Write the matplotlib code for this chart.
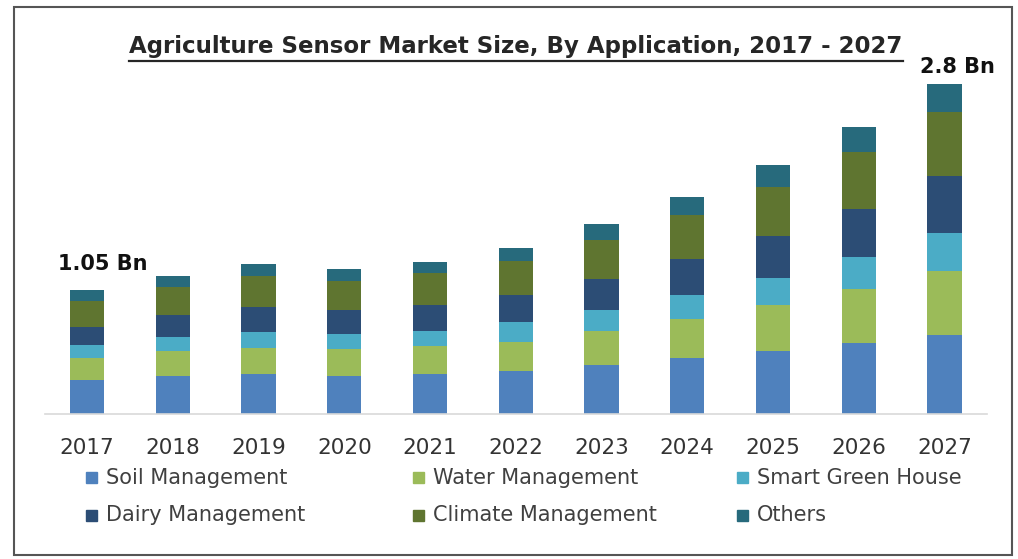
import numpy as np
import matplotlib.pyplot as plt
from matplotlib.patches import Rectangle
from matplotlib.lines import Line2D

# market size by application, USD Bn
years = ['2017', '2018', '2019', '2020', '2021', '2022', '2023', '2024', '2025', '2026', '2027']
soil = [0.285, 0.325, 0.339, 0.325, 0.342, 0.367, 0.415, 0.472, 0.534, 0.599, 0.672]
water = [0.192, 0.209, 0.223, 0.224, 0.235, 0.246, 0.291, 0.336, 0.390, 0.458, 0.542]
green_house = [0.105, 0.116, 0.131, 0.130, 0.130, 0.164, 0.175, 0.201, 0.231, 0.274, 0.322]
dairy = [0.157, 0.186, 0.217, 0.203, 0.218, 0.231, 0.263, 0.305, 0.353, 0.409, 0.483]
climate = [0.222, 0.237, 0.263, 0.248, 0.269, 0.291, 0.331, 0.373, 0.418, 0.483, 0.537]
others = [0.089, 0.098, 0.099, 0.099, 0.098, 0.105, 0.136, 0.155, 0.181, 0.207, 0.244]

segments = [
    ('Soil Management', soil, '#4f81bd'),
    ('Water Management', water, '#9bbb59'),
    ('Smart Green House', green_house, '#4bacc6'),
    ('Dairy Management', dairy, '#2c4d75'),
    ('Climate Management', climate, '#5f7530'),
    ('Others', others, '#276a7c'),
]

W, H = 1018, 559
fig = plt.figure(figsize=(W / 100, H / 100), dpi=100)
ax = fig.add_axes([45 / W, 1 - 414 / H, 942 / W, 354 / H])

x = np.arange(len(years))
bottom = np.zeros(len(years))
for name, vals, color in segments:
    ax.bar(x, vals, 0.4, bottom=bottom, color=color, label=name)
    bottom += np.array(vals)
totals = bottom

ax.set_xlim(-0.49, 10.495)
ax.set_ylim(0, 3.0)
ax.set_xticks(x, years)
ax.set_yticks([])
ax.tick_params(axis='x', length=0, pad=17, labelsize=15.5, labelcolor='#333333')
for s in ['left', 'right', 'top']:
    ax.spines[s].set_visible(False)
ax.spines['bottom'].set_color('#d9d9d9')
ax.spines['bottom'].set_linewidth(1.2)

# first and last totals
ax.annotate('%.2f Bn' % totals[0], xy=(x[0], totals[0]), xytext=(11, 19),
            textcoords='offset points', ha='center', va='center',
            fontsize=15, fontweight='bold', color='#111111', annotation_clip=False)
ax.annotate('%.1f Bn' % totals[-1], xy=(x[-1], totals[-1]), xytext=(9, 12),
            textcoords='offset points', ha='center', va='center',
            fontsize=15, fontweight='bold', color='#111111', annotation_clip=False)

title = fig.text(516 / W, 1 - 47 / H, 'Agriculture Sensor Market Size, By Application, 2017 - 2027',
                 ha='center', va='center', fontsize=16.5, fontweight='bold', color='#262626')
fig.canvas.draw()
bb = title.get_window_extent()
fig.add_artist(Line2D([bb.x0 / W, bb.x1 / W], [1 - 61 / H, 1 - 61 / H],
                      transform=fig.transFigure, color='#262626', lw=1.6))

# legend, 3 columns x 2 rows
legend_cols = [86, 413, 737]
legend_rows = [477.5, 515]
for i, (name, vals, color) in enumerate(segments):
    cx = legend_cols[i % 3]
    cy = legend_rows[i // 3]
    fig.add_artist(Rectangle((cx / W, 1 - (cy + 5.5) / H), 11 / W, 11 / H,
                             transform=fig.transFigure, color=color))
    fig.text((cx + 20) / W, 1 - cy / H, name, ha='left', va='center',
             fontsize=15, color='#404040')

# frame around the chart
fig.add_artist(Rectangle((14 / W, 1 - 555 / H), (1012 - 14) / W, (555 - 7) / H,
                         transform=fig.transFigure, fill=False, edgecolor='#555555', lw=1.5))

fig.savefig('out.png', dpi=100)
